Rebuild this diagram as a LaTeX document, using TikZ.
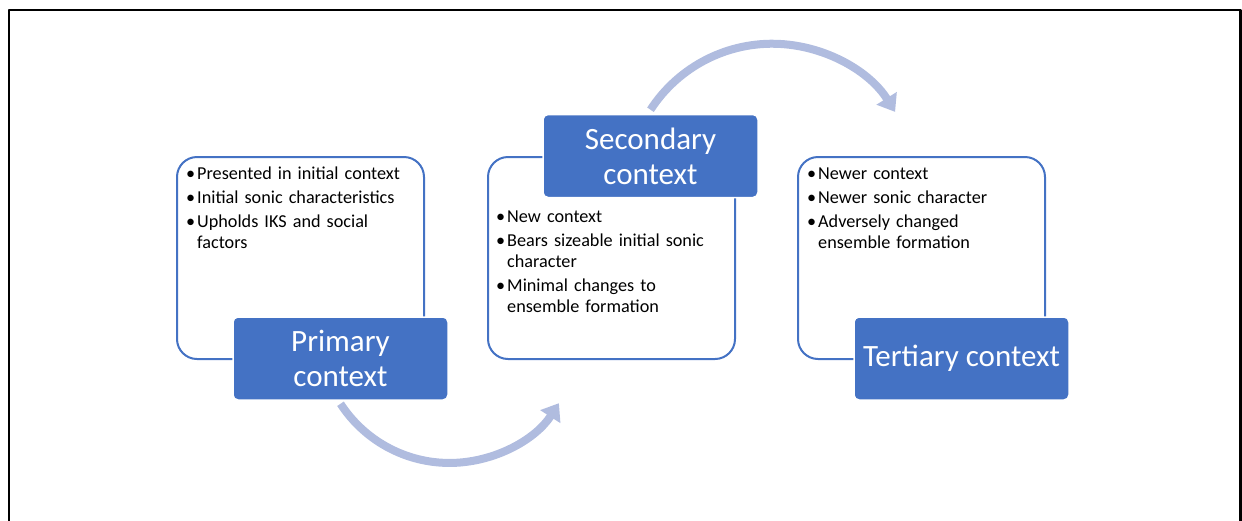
\documentclass[tikz,border=0pt]{standalone}
\usepackage{fontspec}
\setmainfont{Carlito}
\usetikzlibrary{arrows.meta}
\definecolor{ctxblue}{RGB}{68,114,196}
\definecolor{flowblue}{RGB}{176,188,223}
\newcommand{\bul}[1]{\par\hangindent=11pt\hangafter=1\noindent\makebox[11pt][l]{\textbullet}#1}
\begin{document}
\begin{tikzpicture}[x=1pt,y=-1pt,line join=round,
	ctxbox/.style={draw=ctxblue,line width=2pt,fill=white,rounded corners=20pt,minimum width=247pt,minimum height=202pt,anchor=north west},
	ctxtitle/.style={fill=ctxblue,draw=white,line width=1.5pt,rounded corners=5pt,minimum width=215pt,minimum height=83pt,text=white,align=center,inner sep=0pt,font=\fontsize{31}{35}\selectfont},
	ctxlist/.style={anchor=north west,inner sep=0pt,text width=235pt,font=\fontsize{18.2}{21}\selectfont\setlength{\parskip}{3pt}},
	flow/.style={draw=flowblue,line width=8pt,-{Triangle[width=23pt,length=16pt]}}]
	\useasboundingbox (0,0) rectangle (1242,520);
	\clip (0,0) rectangle (1242,520);
	% frame
	\draw[line width=2.5pt] (9,530) -- (9,10) -- (1240.5,10) -- (1240.5,530);
	% list boxes
	\node[ctxbox] (B1) at (176,156) {};
	\node[ctxbox] (B2) at (487,156) {};
	\node[ctxbox] (B3) at (797,156) {};
	\node[ctxlist] (L1) at (186,155) {\bul{Presented in initial context}\bul{Initial sonic characteristics}\bul{Upholds IKS and social\newline factors}\par};
	\node[ctxlist] (L2) at (496,198) {\bul{New context}\bul{Bears sizeable initial sonic\newline character}\bul{Minimal changes to\newline ensemble formation}\par};
	\node[ctxlist] (L3) at (807,155) {\bul{Newer context}\bul{Newer sonic character}\bul{Adversely changed\newline ensemble formation}\par};
	% titles
	\node[ctxtitle] (P) at (340.5,358.5) {Primary\\context};
	\node[ctxtitle] (S) at (650.5,156) {Secondary\\context};
	\node[ctxtitle] (T) at (961.5,358.5) {Tertiary context};
	% arrows
	\draw[flow] ([yshift=-3pt]P.south) arc[start angle=147,end angle=32.7,radius=130];
	\draw[flow] ([yshift=4pt]S.north) arc[start angle=-147,end angle=-32,radius=145];
\end{tikzpicture}
\end{document}
